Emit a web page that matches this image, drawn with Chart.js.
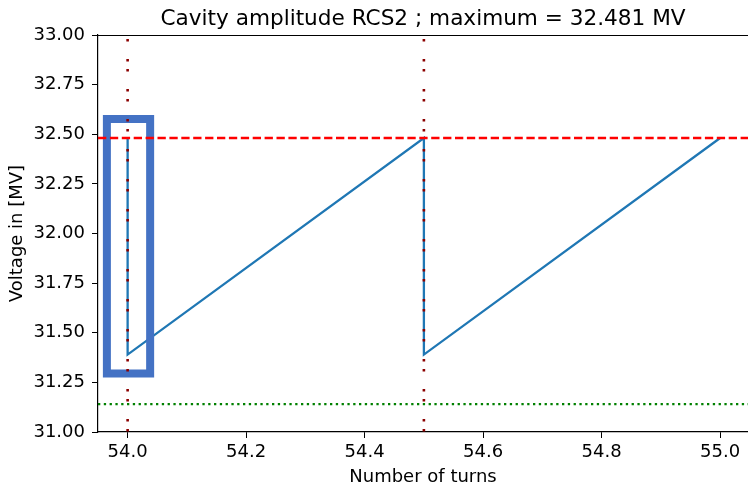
<!DOCTYPE html>
<html>
<head>
<meta charset="utf-8">
<script src="https://cdn.jsdelivr.net/npm/chart.js@4.4.1/dist/chart.umd.min.js"></script>
<style>
  html, body { margin: 0; padding: 0; background: #fff; }
  canvas { display: block; }
</style>
</head>
<body>
<canvas id="chart" width="748" height="489"></canvas>
<script>
// data
const turns = [54.0, 54.0, 54.5, 54.5, 55.0];
const voltage = [32.481, 31.39, 32.481, 31.39, 32.481];
const maxVoltage = 32.481;
const lowerLimit = 31.14;
const markerTurns = [54.0, 54.5];
const boxTurns = [53.965, 54.038];
const boxVoltage = [32.577, 31.295];
const xTicks = [54.0, 54.2, 54.4, 54.6, 54.8, 55.0];
const yTicks = [31.0, 31.25, 31.5, 31.75, 32.0, 32.25, 32.5, 32.75, 33.0];
const xRange = [53.950, 55.047];
const yRange = [31.0, 33.0];
const titleText = 'Cavity amplitude RCS2 ; maximum = 32.481 MV';

const fontFamily = "'DejaVu Sans', sans-serif";
Chart.defaults.color = '#000';
Chart.defaults.font.family = fontFamily;

// matplotlib-like frame: top spine + title centred over the axes
const axesFrame = {
  id: 'axesFrame',
  afterDatasetsDraw(chart) {
    const { ctx, chartArea: { left, right, top } } = chart;
    ctx.save();
    ctx.strokeStyle = '#000';
    ctx.lineWidth = 1.2;
    ctx.beginPath();
    ctx.moveTo(left, top + 0.5);
    ctx.lineTo(right, top + 0.5);
    ctx.stroke();
    ctx.fillStyle = '#000';
    ctx.font = '21.6px ' + fontFamily;
    ctx.textAlign = 'center';
    ctx.textBaseline = 'alphabetic';
    ctx.fillText(titleText, (left + right) / 2, top - 10);
    ctx.restore();
  },
};

const markerSets = markerTurns.map((t) => ({
  data: [{ x: t, y: yRange[1] }, { x: t, y: yRange[0] }],
  borderColor: '#8b0000',
  borderWidth: 2.6,
  borderDash: [2.6, 17.4, 2.6, 7.4],
  borderDashOffset: -4,
  pointRadius: 0,
  order: 1,
}));

const config = {
  type: 'line',
  data: {
    datasets: [
      ...markerSets,
      {
        data: [{ x: xRange[0], y: maxVoltage }, { x: xRange[1], y: maxVoltage }],
        borderColor: '#ff0000',
        borderWidth: 2.3,
        borderDash: [8.3, 3.6],
        pointRadius: 0,
        order: 2,
      },
      {
        data: [{ x: xRange[0], y: lowerLimit }, { x: xRange[1], y: lowerLimit }],
        borderColor: '#008000',
        borderWidth: 2.3,
        borderDash: [2.3, 3.5],
        pointRadius: 0,
        order: 3,
      },
      {
        data: [
          { x: boxTurns[0], y: boxVoltage[0] },
          { x: boxTurns[1], y: boxVoltage[0] },
          { x: boxTurns[1], y: boxVoltage[1] },
          { x: boxTurns[0], y: boxVoltage[1] },
          { x: boxTurns[0], y: boxVoltage[0] },
        ],
        borderColor: '#4472c4',
        borderWidth: 8,
        borderJoinStyle: 'miter',
        borderCapStyle: 'square',
        pointRadius: 0,
        order: 4,
      },
      {
        data: turns.map((t, i) => ({ x: t, y: voltage[i] })),
        borderColor: '#1f77b4',
        borderWidth: 2.3,
        pointRadius: 0,
        tension: 0,
        order: 5,
      },
    ],
  },
  options: {
    responsive: false,
    animation: false,
    events: [],
    layout: { padding: { top: 35, left: 0, right: 0, bottom: 0 } },
    plugins: {
      legend: { display: false },
      tooltip: { enabled: false },
      title: { display: false },
    },
    scales: {
      x: {
        type: 'linear',
        min: xRange[0],
        max: xRange[1],
        afterBuildTicks: (scale) => {
          scale.ticks = xTicks.map((v) => ({ value: v }));
        },
        afterFit: (scale) => {
          scale.height = 57;
        },
        ticks: {
          callback: (v) => Number(v).toFixed(1),
          font: { size: 18 },
          color: '#000',
          padding: 4,
          maxRotation: 0,
          autoSkip: false,
        },
        grid: {
          display: true,
          drawOnChartArea: false,
          drawTicks: true,
          tickLength: 6,
          color: '#000',
        },
        border: { display: true, color: '#000', width: 1.2 },
        title: {
          display: true,
          text: 'Number of turns',
          color: '#000',
          font: { size: 18 },
          padding: { top: 0, bottom: 1 },
        },
      },
      y: {
        type: 'linear',
        min: yRange[0],
        max: yRange[1],
        afterBuildTicks: (scale) => {
          scale.ticks = yTicks.map((v) => ({ value: v }));
        },
        afterFit: (scale) => {
          scale.width = 98;
        },
        ticks: {
          callback: (v) => Number(v).toFixed(2),
          font: { size: 18 },
          color: '#000',
          padding: 7,
          autoSkip: false,
        },
        grid: {
          display: true,
          drawOnChartArea: false,
          drawTicks: true,
          tickLength: 6,
          color: '#000',
        },
        border: { display: true, color: '#000', width: 1.2 },
        title: {
          display: true,
          text: 'Voltage in [MV]',
          color: '#000',
          font: { size: 18 },
          padding: { top: 7, bottom: 0 },
        },
      },
    },
  },
  plugins: [axesFrame],
};

const ctx = document.getElementById('chart').getContext('2d');
const chart = new Chart(ctx, config);
</script>
</body>
</html>
